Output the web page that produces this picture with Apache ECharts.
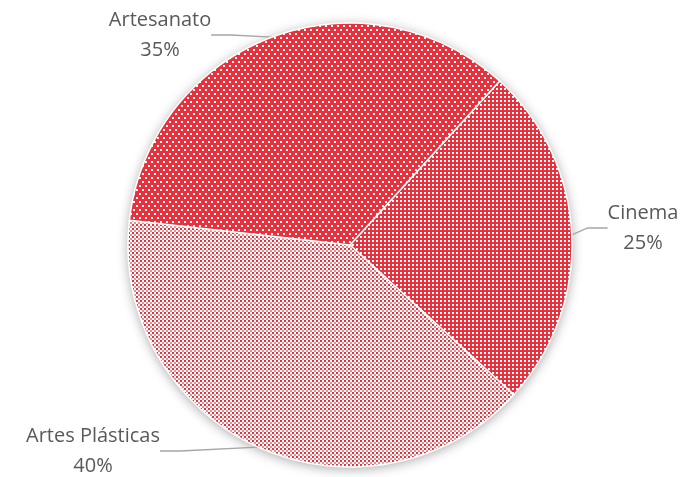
<!DOCTYPE html>
<html><head><meta charset="utf-8">
<script src="https://cdn.jsdelivr.net/npm/echarts@6/dist/echarts.min.js"></script>
<style>html,body{margin:0;padding:0;background:#fff}#c{width:695px;height:477px}</style>
</head><body><div id="c"></div>
<script>
const categories = ['Cinema', 'Artes Plásticas', 'Artesanato'];
const values = [25, 40, 35];
const labelPos = [[643, 228], [93, 451], [160, 35]];

const RED = '#E7323E';
function tile(w, h, bg, rects) {
  const c = document.createElement('canvas');
  c.width = w; c.height = h;
  const g = c.getContext('2d');
  g.fillStyle = bg; g.fillRect(0, 0, w, h);
  rects.forEach(r => { g.fillStyle = r[4]; g.fillRect(r[0], r[1], r[2], r[3]); });
  return c;
}
const patCinema = tile(4, 4, RED, [[0, 0, 2, 2, '#ffffff']]);
const patPlast = tile(4, 4, '#ffffff', [[0, 0, 2, 2, RED], [2, 2, 2, 2, '#F08A91']]);
const patArtes = tile(6, 8, RED, [[1, 1, 2, 2, '#ffffff'], [4, 5, 2, 2, '#ffffff']]);
const patterns = [patCinema, patPlast, patArtes];

const chart = echarts.init(document.getElementById('c'), null, {renderer: 'canvas'});
chart.setOption({
  animation: false,
  backgroundColor: '#ffffff',
  series: [
    {
      type: 'pie', silent: true, z: 1,
      center: [350, 245], radius: 222,
      label: {show: false}, labelLine: {show: false},
      itemStyle: {color: '#ffffff', shadowBlur: 12, shadowColor: 'rgba(0,0,0,0.35)', shadowOffsetX: 0, shadowOffsetY: 2},
      data: [{value: 1}]
    },
    {
      type: 'pie', z: 2,
      center: [350, 245], radius: 222,
      startAngle: 47.6, clockwise: true,
      itemStyle: {borderColor: '#ffffff', borderWidth: 1.5},
      label: {
        show: true, position: 'outside',
        formatter: p => p.name + '\n' + p.value + '%',
        fontFamily: 'Open Sans', fontSize: 20, color: '#595959',
        lineHeight: 30, align: 'center'
      },
      labelLine: {show: true, length: 12, length2: 20, lineStyle: {color: '#A6A6A6', width: 1.3}},
      labelLayout: function (p) {
        const pos = labelPos[p.dataIndex];
        return {x: pos[0], y: pos[1], align: 'center', verticalAlign: 'middle'};
      },
      data: categories.map((n, i) => ({
        name: n, value: values[i],
        itemStyle: {color: {image: patterns[i], repeat: 'repeat'}}
      }))
    }
  ]
});
</script></body></html>
